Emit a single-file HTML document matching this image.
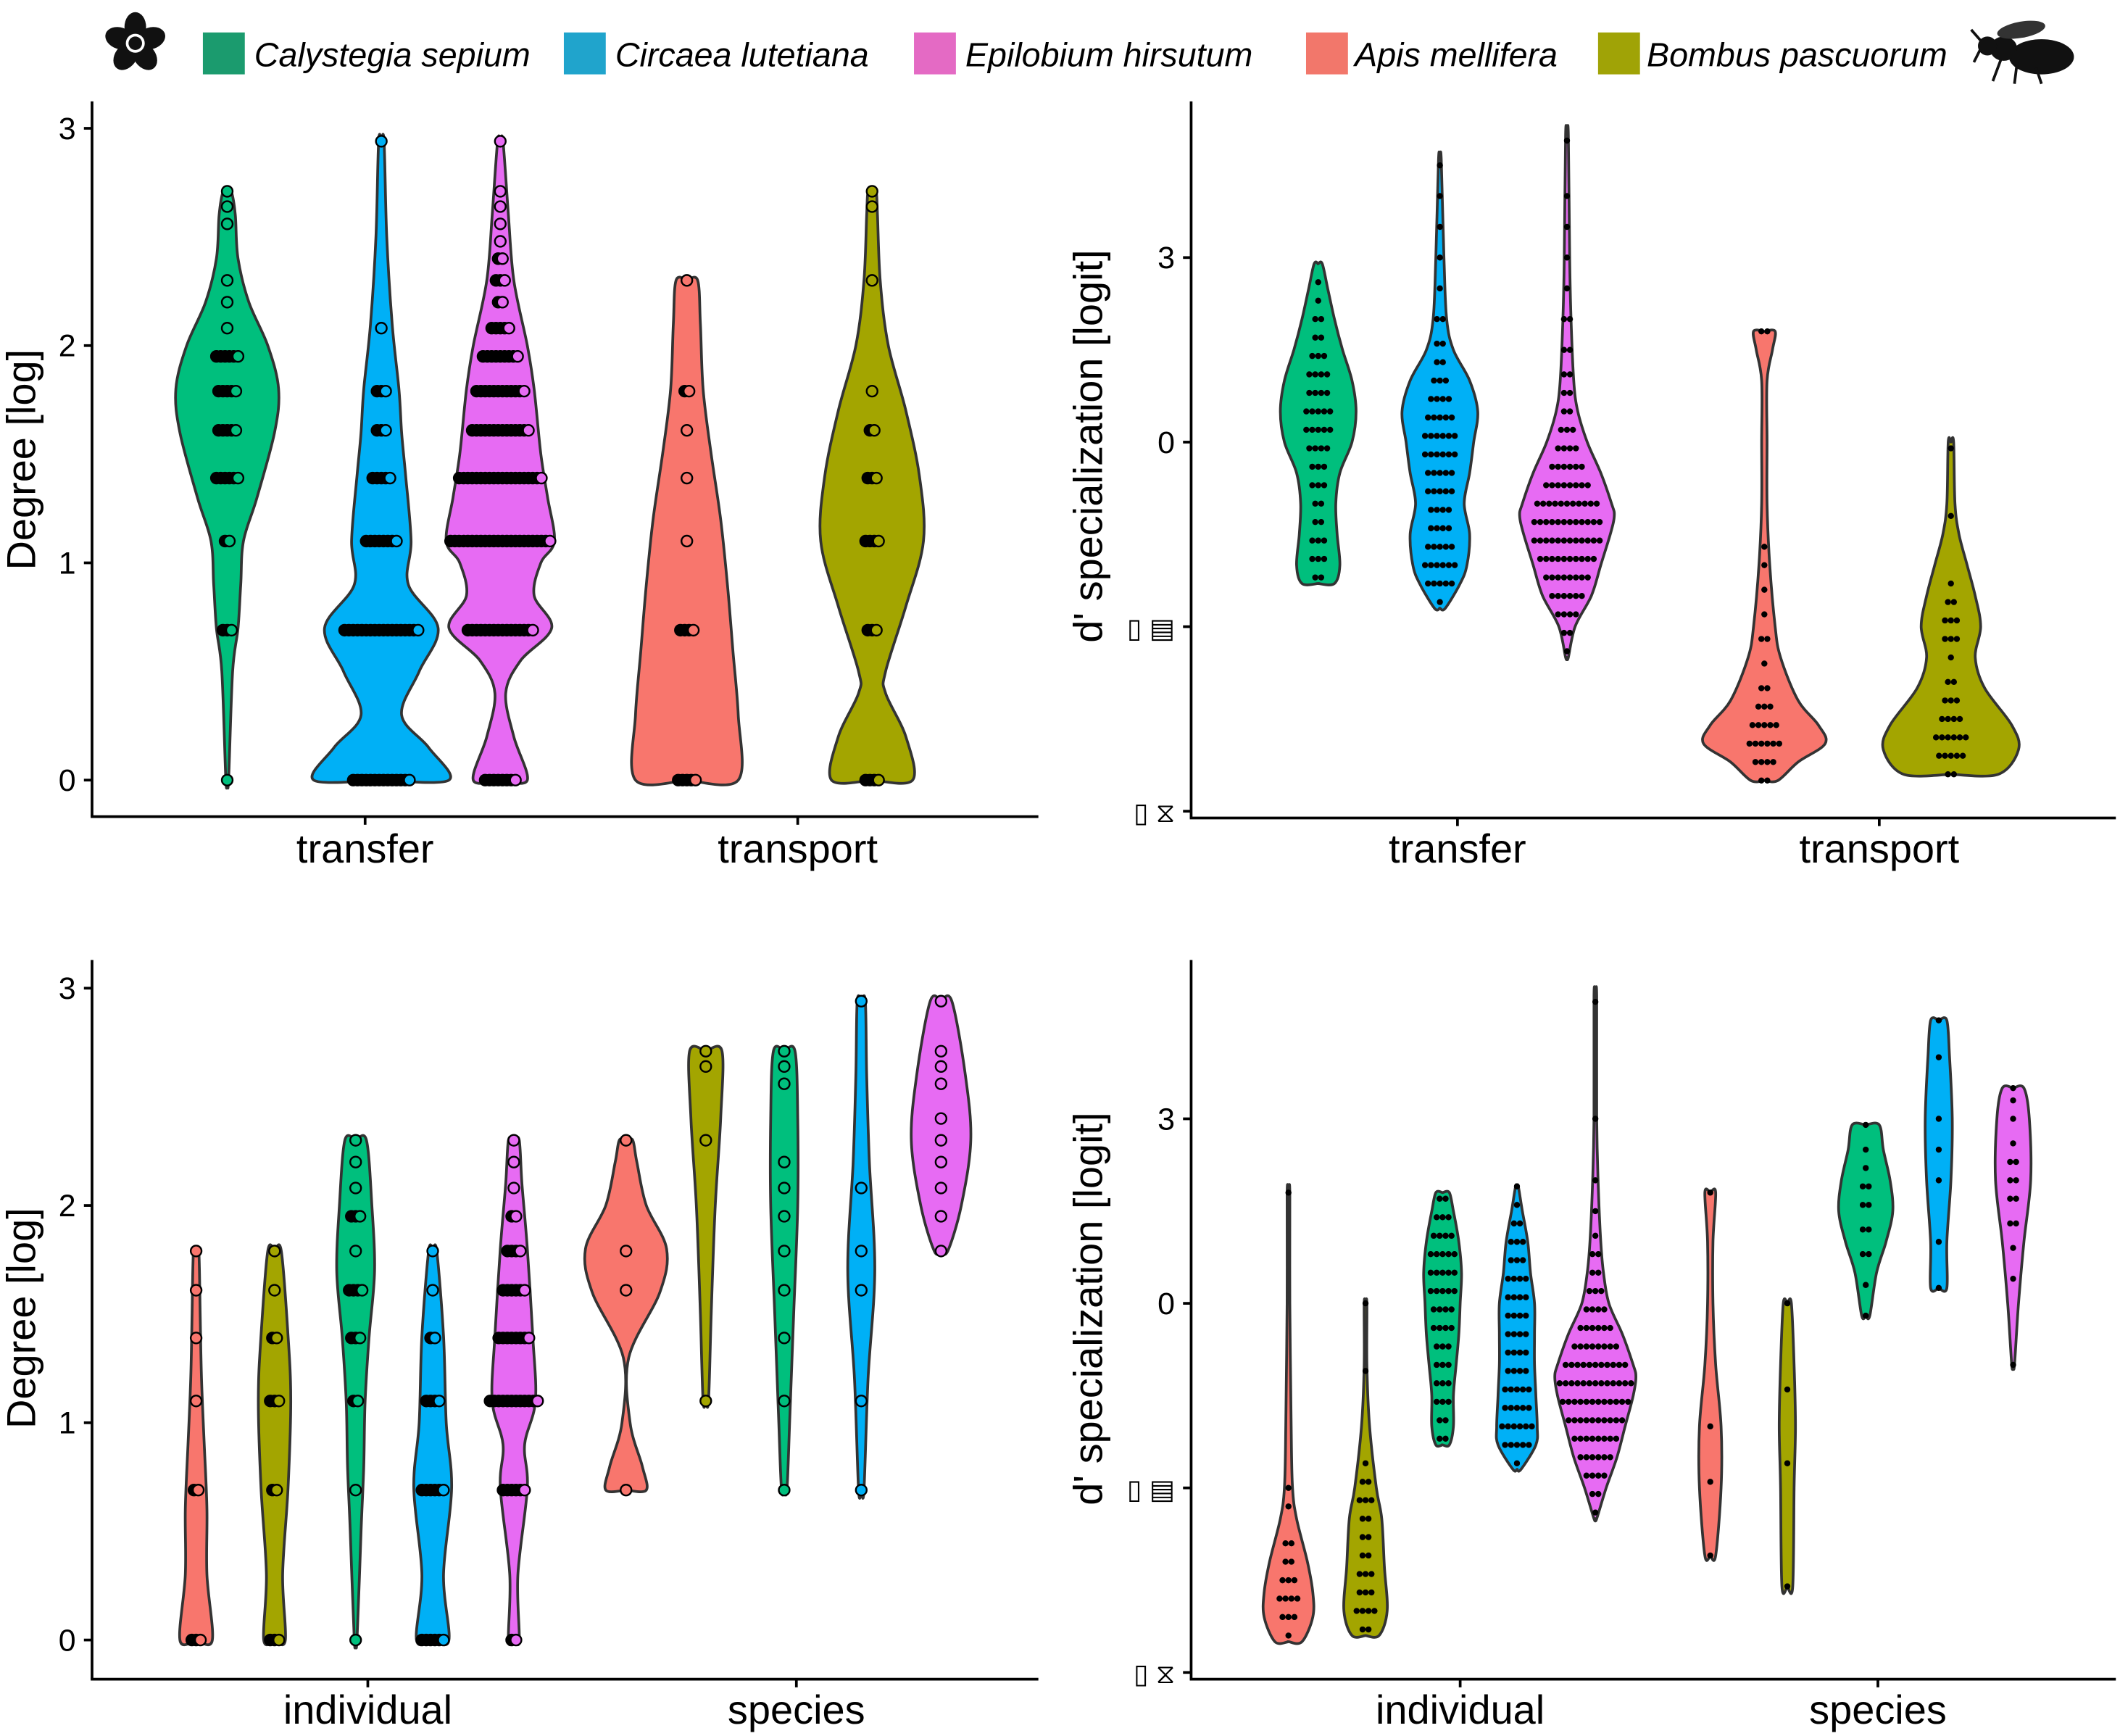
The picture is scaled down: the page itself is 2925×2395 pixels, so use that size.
<!DOCTYPE html>
<html><head><meta charset="utf-8"><style>
html,body{margin:0;padding:0;background:#fff;}
svg{display:block;}
text{font-family:"Liberation Sans","DejaVu Sans",sans-serif;fill:#000;}
</style></head><body>
<svg id="chart" width="2925" height="2395" viewBox="0 0 1568 1284" xmlns="http://www.w3.org/2000/svg">
<g id="legend">
  <g transform="translate(100,32)">
    <ellipse cx="0" cy="-12" rx="8" ry="11" fill="#111"/>
    <ellipse cx="0" cy="-12" rx="8" ry="11" fill="#111" transform="rotate(72)"/>
    <ellipse cx="0" cy="-12" rx="8" ry="11" fill="#111" transform="rotate(144)"/>
    <ellipse cx="0" cy="-12" rx="8" ry="11" fill="#111" transform="rotate(216)"/>
    <ellipse cx="0" cy="-12" rx="8" ry="11" fill="#111" transform="rotate(288)"/>
    <circle cx="0" cy="0" r="7" fill="#fff"/><circle cx="0" cy="0" r="5" fill="#111"/>
  </g>
  <g><rect x="150" y="24" width="31" height="31" fill="#1b9b6e"/><text x="188" y="49" font-size="25" font-style="italic">Calystegia sepium</text></g>
  <g><rect x="417" y="24" width="31" height="31" fill="#20a4cc"/><text x="455" y="49" font-size="25" font-style="italic">Circaea lutetiana</text></g>
  <g><rect x="676" y="24" width="31" height="31" fill="#e46ac4"/><text x="714" y="49" font-size="25" font-style="italic">Epilobium hirsutum</text></g>
  <g><rect x="966" y="24" width="31" height="31" fill="#f2776b"/><text x="1002" y="49" font-size="25" font-style="italic">Apis mellifera</text></g>
  <g><rect x="1182" y="24" width="31" height="31" fill="#a0a306"/><text x="1218" y="49" font-size="25" font-style="italic">Bombus pascuorum</text></g>
  <g fill="#111">
    <ellipse cx="1510" cy="42" rx="24" ry="13"/>
    <ellipse cx="1482" cy="36" rx="10" ry="9"/>
    <circle cx="1470" cy="34" r="7"/>
    <ellipse cx="1495" cy="22" rx="18" ry="6" fill="#333" transform="rotate(-10 1495 22)"/>
    <path d="M1465 30 L1458 22 M1465 36 L1460 46 M1480 44 L1474 60 M1492 46 L1490 62 M1506 50 L1510 62" stroke="#111" stroke-width="2" fill="none"/>
  </g>
</g>
<g id="plots"></g>
</svg>
<script>
// ===== Data: profiles (value, density) and dot stacks (value, count) =====
const tlGreenV=[0,0.5,0.7,0.9,1.1,1.3,1.6,1.8,2.0,2.2,2.4,2.6,2.71];
const tlGreenD=[1,4,8,10,12,22,35,38,30,16,8,6,3];
const tlGreenP=[0,0.69,1.1,1.39,1.61,1.79,1.95,2.08,2.2,2.3,2.56,2.64,2.71];
const tlGreenN=[1,3,2,6,5,5,6,1,1,1,1,1,1];
const tlBlueV=[0,0.15,0.3,0.5,0.7,0.9,1.1,1.4,1.6,1.8,2.1,2.5,2.94];
const tlBlueD=[50,35,15,28,42,20,22,18,15,13,8,4,2];
const tlBlueP=[0,0.69,1.1,1.39,1.61,1.79,2.08,2.94];
const tlBlueN=[14,18,8,5,3,3,1,1];
const tlPinkV=[0,0.2,0.4,0.55,0.7,0.85,1.0,1.1,1.3,1.5,1.8,2.0,2.3,2.6,2.94];
const tlPinkD=[20,10,4,15,38,25,30,40,35,30,25,20,10,6,2];
const tlPinkP=[0,0.69,1.1,1.39,1.61,1.79,1.95,2.08,2.2,2.3,2.4,2.48,2.56,2.64,2.71,2.94];
const tlPinkN=[8,16,24,20,14,12,9,5,2,3,2,1,1,1,1,1];
const tlRedV=[0,0.3,0.6,0.9,1.2,1.5,1.8,2.1,2.3];
const tlRedD=[38,38,34,30,25,18,12,10,8];
const tlRedP=[0,0.69,1.1,1.39,1.61,1.79,2.3];
const tlRedN=[5,4,1,1,1,2,1];
const tlOliveV=[0,0.2,0.4,0.5,0.8,1.1,1.4,1.7,2.0,2.3,2.6,2.71];
const tlOliveD=[30,25,10,10,25,38,35,25,12,6,4,3];
const tlOliveP=[0,0.69,1.1,1.39,1.61,1.79,2.3,2.64,2.71];
const tlOliveN=[4,3,4,3,2,1,1,1,1];
const trGreenV=[-2.3,-2,-1.5,-1,-0.5,0,0.5,1,1.5,2,2.5,2.9];
const trGreenD=[12,16,14,13,16,25,28,25,18,12,7,3];
const trGreenP=[-2.2,-1.9,-1.6,-1.3,-1.0,-0.7,-0.4,-0.1,0.2,0.5,0.8,1.1,1.4,1.7,2.0,2.3,2.6];
const trGreenN=[2,3,3,2,2,3,3,4,5,5,4,4,3,2,2,1,1];
const trBlueV=[-2.7,-2.3,-2,-1.5,-1,-0.5,0,0.5,1,1.5,2,3,4.6];
const trBlueD=[4,15,20,22,18,22,25,28,22,10,5,3,1];
const trBlueP=[-2.6,-2.3,-2.0,-1.7,-1.4,-1.1,-0.8,-0.5,-0.2,0.1,0.4,0.7,1.0,1.3,1.6,2.0,2.5,3.0,3.5,4.0,4.5];
const trBlueN=[1,5,6,5,4,4,5,5,6,6,5,4,3,2,2,2,1,1,1,1,1];
const trPinkV=[-3.5,-3,-2.5,-2,-1.5,-1.2,-1,-0.5,0,0.5,1,2,3,5];
const trPinkD=[1,6,18,25,32,35,33,25,15,8,5,3,2,1];
const trPinkP=[-3.4,-3.1,-2.8,-2.5,-2.2,-1.9,-1.6,-1.3,-1.0,-0.7,-0.4,-0.1,0.2,0.5,0.8,1.1,1.5,2.0,2.5,3.0,3.5,4.0,4.9];
const trPinkN=[1,2,4,6,8,10,12,12,11,8,6,4,3,2,2,2,2,2,1,1,1,1,1];
const trRedV=[-5.5,-5.2,-4.9,-4.6,-4.2,-3.5,-3,-2,-1,0,1,1.5,1.8];
const trRedD=[10,25,45,40,25,12,8,4,2,2,2,6,8];
const trRedP=[-5.5,-5.2,-4.9,-4.6,-4.3,-4.0,-3.6,-3.2,-2.8,-2.4,-2.0,-1.7,1.8];
const trRedN=[2,4,6,5,3,2,1,2,1,1,1,1,2];
const trOliveV=[-5.4,-5,-4.6,-4,-3.5,-3,-2.5,-2,-1.5,-1,0];
const trOliveD=[35,50,45,25,18,22,18,12,6,3,2];
const trOliveP=[-5.4,-5.1,-4.8,-4.5,-4.2,-3.9,-3.5,-3.2,-2.9,-2.6,-2.3,-1.2,-0.1];
const trOliveN=[2,5,6,4,3,2,1,3,3,2,1,1,1];
const blRedV=[0,0.3,0.6,0.9,1.2,1.5,1.79];
const blRedD=[12,8,8,6,4,3,2];
const blRedP=[0,0.69,1.1,1.39,1.61,1.79];
const blRedN=[3,2,1,1,1,1];
const blOliveV=[0,0.3,0.7,1.1,1.4,1.79];
const blOliveD=[8,6,10,12,10,5];
const blOliveP=[0,0.69,1.1,1.39,1.61,1.79];
const blOliveN=[3,2,3,2,1,1];
const blGreenV=[0,0.5,0.8,1.1,1.4,1.7,2.0,2.3];
const blGreenD=[1,4,6,7,10,14,12,8];
const blGreenP=[0,0.69,1.1,1.39,1.61,1.79,1.95,2.08,2.2,2.3];
const blGreenN=[1,1,2,3,4,1,3,1,1,1];
const blBlueV=[0,0.3,0.7,1.0,1.4,1.79];
const blBlueD=[12,8,14,10,8,3];
const blBlueP=[0,0.69,1.1,1.39,1.61,1.79];
const blBlueN=[6,6,4,2,1,1];
const blPinkV=[0,0.3,0.7,0.9,1.1,1.4,1.8,2.1,2.3];
const blPinkD=[4,3,10,8,16,14,10,6,4];
const blPinkP=[0,0.69,1.1,1.39,1.61,1.79,1.95,2.08,2.2,2.3];
const blPinkN=[2,6,12,8,6,4,2,1,1,1];
const bsRedV=[0.69,0.8,1.0,1.3,1.6,1.8,2.0,2.2,2.3];
const bsRedD=[15,12,3,2,25,30,15,8,5];
const bsRedP=[0.69,1.61,1.79,2.3];
const bsRedN=[1,1,1,1];
const bsOliveV=[1.1,1.5,2.0,2.4,2.71];
const bsOliveD=[2,4,7,11,12];
const bsOliveP=[1.1,2.3,2.64,2.71];
const bsOliveN=[1,1,1,1];
const bsGreenV=[0.69,1.0,1.5,2.0,2.4,2.71];
const bsGreenD=[2,4,7,10,10,8];
const bsGreenP=[0.69,1.1,1.39,1.61,1.79,1.95,2.08,2.2,2.56,2.64,2.71];
const bsGreenN=[1,1,1,1,1,1,1,1,1,1,1];
const bsBlueV=[0.69,1.2,1.7,2.2,2.6,2.94];
const bsBlueD=[2,5,10,6,4,3];
const bsBlueP=[0.69,1.1,1.61,1.79,2.08,2.94];
const bsBlueN=[1,1,1,1,1,1];
const bsPinkV=[1.79,2.0,2.3,2.6,2.94];
const bsPinkD=[5,15,22,18,8];
const bsPinkP=[1.79,1.95,2.08,2.2,2.3,2.4,2.56,2.64,2.71,2.94];
const bsPinkN=[1,1,1,1,1,1,1,1,1,1];
const brRedV=[-5.5,-5.1,-4.7,-4.2,-3.5,-3,-2,0,1.8];
const brRedD=[10,18,18,14,6,3,2,1,1];
const brRedP=[-5.4,-5.1,-4.8,-4.5,-4.2,-3.9,-3.3,-3.0,1.8];
const brRedN=[1,3,4,3,2,2,1,1,1];
const brOliveV=[-5.4,-5,-4.3,-3.5,-3,-2,-1,0];
const brOliveD=[10,16,14,12,8,3,1,1];
const brOliveP=[-5.3,-5.0,-4.7,-4.4,-4.1,-3.8,-3.5,-3.2,-2.9,-2.6,-1.1,0];
const brOliveN=[2,4,3,3,2,2,2,3,2,1,1,1];
const brGreenV=[-2.3,-2,-1.5,-1,-0.5,0,0.5,1,1.5,1.8];
const brGreenD=[5,8,8,10,12,13,14,12,8,5];
const brGreenP=[-2.2,-1.9,-1.6,-1.3,-1.0,-0.7,-0.4,-0.1,0.2,0.5,0.8,1.1,1.4,1.7];
const brGreenN=[2,2,3,3,3,3,4,4,5,5,5,4,3,2];
const brBlueV=[-2.7,-2.3,-2,-1.5,-1,-0.5,0,0.5,1,1.5,1.9];
const brBlueD=[3,14,15,14,13,13,13,10,8,4,1];
const brBlueP=[-2.6,-2.3,-2.0,-1.7,-1.4,-1.1,-0.8,-0.5,-0.2,0.1,0.4,0.7,1.0,1.3,1.6,1.9];
const brBlueN=[1,5,6,5,5,4,4,4,4,4,4,3,3,2,1,1];
const brPinkV=[-3.5,-3,-2.5,-2,-1.5,-1.2,-1,-0.5,0,0.5,1,2,3,5];
const brPinkD=[1,8,16,22,28,30,28,20,10,6,4,2,1,1];
const brPinkP=[-3.4,-3.1,-2.8,-2.5,-2.2,-1.9,-1.6,-1.3,-1.0,-0.7,-0.4,-0.1,0.2,0.5,0.8,1.1,1.5,2.0,3.0,4.9];
const brPinkN=[1,2,4,6,8,10,12,13,11,8,6,4,3,2,2,1,1,1,1,1];
const bsRedV2=[-4.1,-3,-2,-1,0,1,1.8];
const bsRedD2=[4,8,8,4,2,2,4];
const bsRedP2=[-4.1,-2.9,-2.0,1.8];
const bsRedN2=[1,1,1,1];
const bsOliveV2=[-4.6,-3,-2,-1,0];
const bsOliveD2=[4,5,6,5,3];
const bsOliveP2=[-4.6,-2.6,-1.4,0];
const bsOliveN2=[1,1,1,1];
const bsGreenV2=[-0.2,0.5,1,1.5,2,2.5,2.9];
const bsGreenD2=[3,8,15,20,18,13,10];
const bsGreenP2=[-0.2,0.3,0.8,1.2,1.6,1.9,2.2,2.5,2.9];
const bsGreenN2=[1,1,2,2,2,2,1,1,1];
const bsBlueV2=[0.25,1,2,3,4,4.6];
const bsBlueD2=[6,6,9,10,8,6];
const bsBlueP2=[0.25,1.0,2.0,2.5,3.0,4.0,4.6];
const bsBlueN2=[1,1,1,1,1,1,1];
const bsPinkV2=[-1,0,1,2,3,3.5];
const bsPinkD2=[1,4,8,13,12,8];
const bsPinkP2=[-1,0.4,0.9,1.3,1.7,2.0,2.3,2.6,3.0,3.3,3.5];
const bsPinkN2=[1,1,1,2,2,2,2,1,1,1,1];

const degTicks=[0,1,2,3];
const degTickLabels=["0","1","2","3"];
const dTicks=[-6,-3,0,3];
const dTickLabels=["\u25AF \u29D6","\u25AF \u25A4","0","3"];

// ===== Rendering =====
const NS="http://www.w3.org/2000/svg";
const root=document.getElementById('plots');
const COL={green:"#00BF7D",blue:"#00B0F6",pink:"#E76BF3",red:"#F8766D",olive:"#A3A500"};
function mk(tag,attrs,parent){const e=document.createElementNS(NS,tag);for(const k in attrs)e.setAttribute(k,attrs[k]);(parent||root).appendChild(e);return e;}
function degScale(y0){return v=>y0-160.7*v;}
function dScale(y0){return v=>y0-45.5*v;}
const panels=[
 {id:'top-left',ax:68,top:75,bot:604,right:768,y:degScale(577),ticks:degTicks,tl:degTickLabels,title:'Degree [log]',ty:340,tx:26,cats:[['transfer',270],['transport',590]],catY:638,kind:'deg'},
 {id:'top-right',ax:881,top:75,bot:605,right:1565,y:dScale(327),ticks:dTicks,tl:dTickLabels,title:"d' specialization [logit]",ty:330,tx:815,cats:[['transfer',1078],['transport',1390]],catY:638,kind:'d'},
 {id:'bottom-left',ax:68,top:710,bot:1242,right:768,y:degScale(1213),ticks:degTicks,tl:degTickLabels,title:'Degree [log]',ty:975,tx:26,cats:[['individual',272],['species',589]],catY:1275,kind:'deg'},
 {id:'bottom-right',ax:881,top:710,bot:1242,right:1565,y:dScale(964),ticks:dTicks,tl:dTickLabels,title:"d' specialization [logit]",ty:968,tx:815,cats:[['individual',1080],['species',1389]],catY:1275,kind:'d'}
];
const violins=[
 [0,168,'green',tlGreenV,tlGreenD,tlGreenP,tlGreenN],[0,282,'blue',tlBlueV,tlBlueD,tlBlueP,tlBlueN],[0,370,'pink',tlPinkV,tlPinkD,tlPinkP,tlPinkN],
 [0,508,'red',tlRedV,tlRedD,tlRedP,tlRedN],[0,645,'olive',tlOliveV,tlOliveD,tlOliveP,tlOliveN],
 [1,975,'green',trGreenV,trGreenD,trGreenP,trGreenN],[1,1065,'blue',trBlueV,trBlueD,trBlueP,trBlueN],[1,1159,'pink',trPinkV,trPinkD,trPinkP,trPinkN],
 [1,1305,'red',trRedV,trRedD,trRedP,trRedN],[1,1443,'olive',trOliveV,trOliveD,trOliveP,trOliveN],
 [2,145,'red',blRedV,blRedD,blRedP,blRedN],[2,203,'olive',blOliveV,blOliveD,blOliveP,blOliveN],[2,263,'green',blGreenV,blGreenD,blGreenP,blGreenN],
 [2,320,'blue',blBlueV,blBlueD,blBlueP,blBlueN],[2,380,'pink',blPinkV,blPinkD,blPinkP,blPinkN],
 [2,463,'red',bsRedV,bsRedD,bsRedP,bsRedN],[2,522,'olive',bsOliveV,bsOliveD,bsOliveP,bsOliveN],[2,580,'green',bsGreenV,bsGreenD,bsGreenP,bsGreenN],
 [2,637,'blue',bsBlueV,bsBlueD,bsBlueP,bsBlueN],[2,696,'pink',bsPinkV,bsPinkD,bsPinkP,bsPinkN],
 [3,953,'red',brRedV,brRedD,brRedP,brRedN],[3,1010,'olive',brOliveV,brOliveD,brOliveP,brOliveN],[3,1067,'green',brGreenV,brGreenD,brGreenP,brGreenN],
 [3,1122,'blue',brBlueV,brBlueD,brBlueP,brBlueN],[3,1180,'pink',brPinkV,brPinkD,brPinkP,brPinkN],
 [3,1265,'red',bsRedV2,bsRedD2,bsRedP2,bsRedN2],[3,1322,'olive',bsOliveV2,bsOliveD2,bsOliveP2,bsOliveN2],[3,1380,'green',bsGreenV2,bsGreenD2,bsGreenP2,bsGreenN2],
 [3,1434,'blue',bsBlueV2,bsBlueD2,bsBlueP2,bsBlueN2],[3,1489,'pink',bsPinkV2,bsPinkD2,bsPinkP2,bsPinkN2]
];
function smooth(pts){let d='M'+pts[0][0]+' '+pts[0][1];
 for(let i=0;i<pts.length-1;i++){const p0=pts[i-1]||pts[i],p1=pts[i],p2=pts[i+1],p3=pts[i+2]||p2;
  const c1=[p1[0]+(p2[0]-p0[0])/6,p1[1]+(p2[1]-p0[1])/6],c2=[p2[0]-(p3[0]-p1[0])/6,p2[1]-(p3[1]-p1[1])/6];
  d+=` C${c1[0].toFixed(1)} ${c1[1].toFixed(1)} ${c2[0].toFixed(1)} ${c2[1].toFixed(1)} ${p2[0].toFixed(1)} ${p2[1].toFixed(1)}`;}
 return d;}
panels.forEach(p=>{
 const g=mk('g',{});
 
 
 const ya=mk('line',{x1:p.ax,y1:p.top,x2:p.ax,y2:p.bot,stroke:'#000','stroke-width':2},g);
 
 
 const xa=mk('line',{x1:p.ax-1,y1:p.bot,x2:p.right,y2:p.bot,stroke:'#000','stroke-width':2},g);
 
 
 p.ticks.forEach((t,i)=>{const y=p.y(t);
  const tk=mk('line',{x1:p.ax-6,y1:y,x2:p.ax,y2:y,stroke:'#000','stroke-width':2},g);
  
  
  const glyph=p.kind==='d'&&t<0;
  const tx=mk('text',{x:p.ax-12,y:y+8,'text-anchor':'end','font-size':glyph?20:23,'font-family':glyph?'DejaVu Sans, sans-serif':'Liberation Sans, sans-serif'},g);
  tx.textContent=p.tl[i];
  
  });
 const tt=mk('text',{x:0,y:0,'text-anchor':'middle','font-size':30,transform:`translate(${p.tx},${p.ty}) rotate(-90)`},g);
 tt.textContent=p.title;
 
 
 p.cats.forEach(c=>{
  const tk=mk('line',{x1:c[1],y1:p.bot,x2:c[1],y2:p.bot+6,stroke:'#000','stroke-width':2},g);
  
  
  const tx=mk('text',{x:c[1],y:p.catY,'text-anchor':'middle','font-size':30},g);
  tx.textContent=c[0];
  
  });
 p.g=g;});
violins.forEach(v=>{
 const [pi,cx,col,vals,dens,pv,pn]=v;const p=panels[pi];const g=p.g;
 const vg=mk('g',{},g);
 
 
 const right=vals.map((x,i)=>[cx+dens[i],p.y(x)]);
 const left=vals.map((x,i)=>[cx-dens[i],p.y(x)]).reverse();
 const top=[cx,p.y(vals[vals.length-1])],bot=[cx,p.y(vals[0])];
 const d=smooth([bot,...right,top])+' L'+smooth([top,...left,bot]).slice(1)+' Z';
 const path=mk('path',{d:d,fill:COL[col],stroke:'#333','stroke-width':2},vg);
 
 
 const deg=p.kind==='deg';
 const sp=deg?3.2:4.4, r=deg?4:2.1;
 pv.forEach((val,i)=>{const n=pn[i];const y=p.y(val);
  for(let k=0;k<n;k++){const x=cx+(k-(n-1)/2)*sp;
   const last=deg&&k===n-1;
   const c=mk('circle',{cx:x.toFixed(1),cy:y.toFixed(1),r:r,fill:deg?(last?COL[col]:'#000'):'#000',stroke:'#000','stroke-width':deg?1.3:0.3},vg);
   
   }});
});
</script>
</body></html>
